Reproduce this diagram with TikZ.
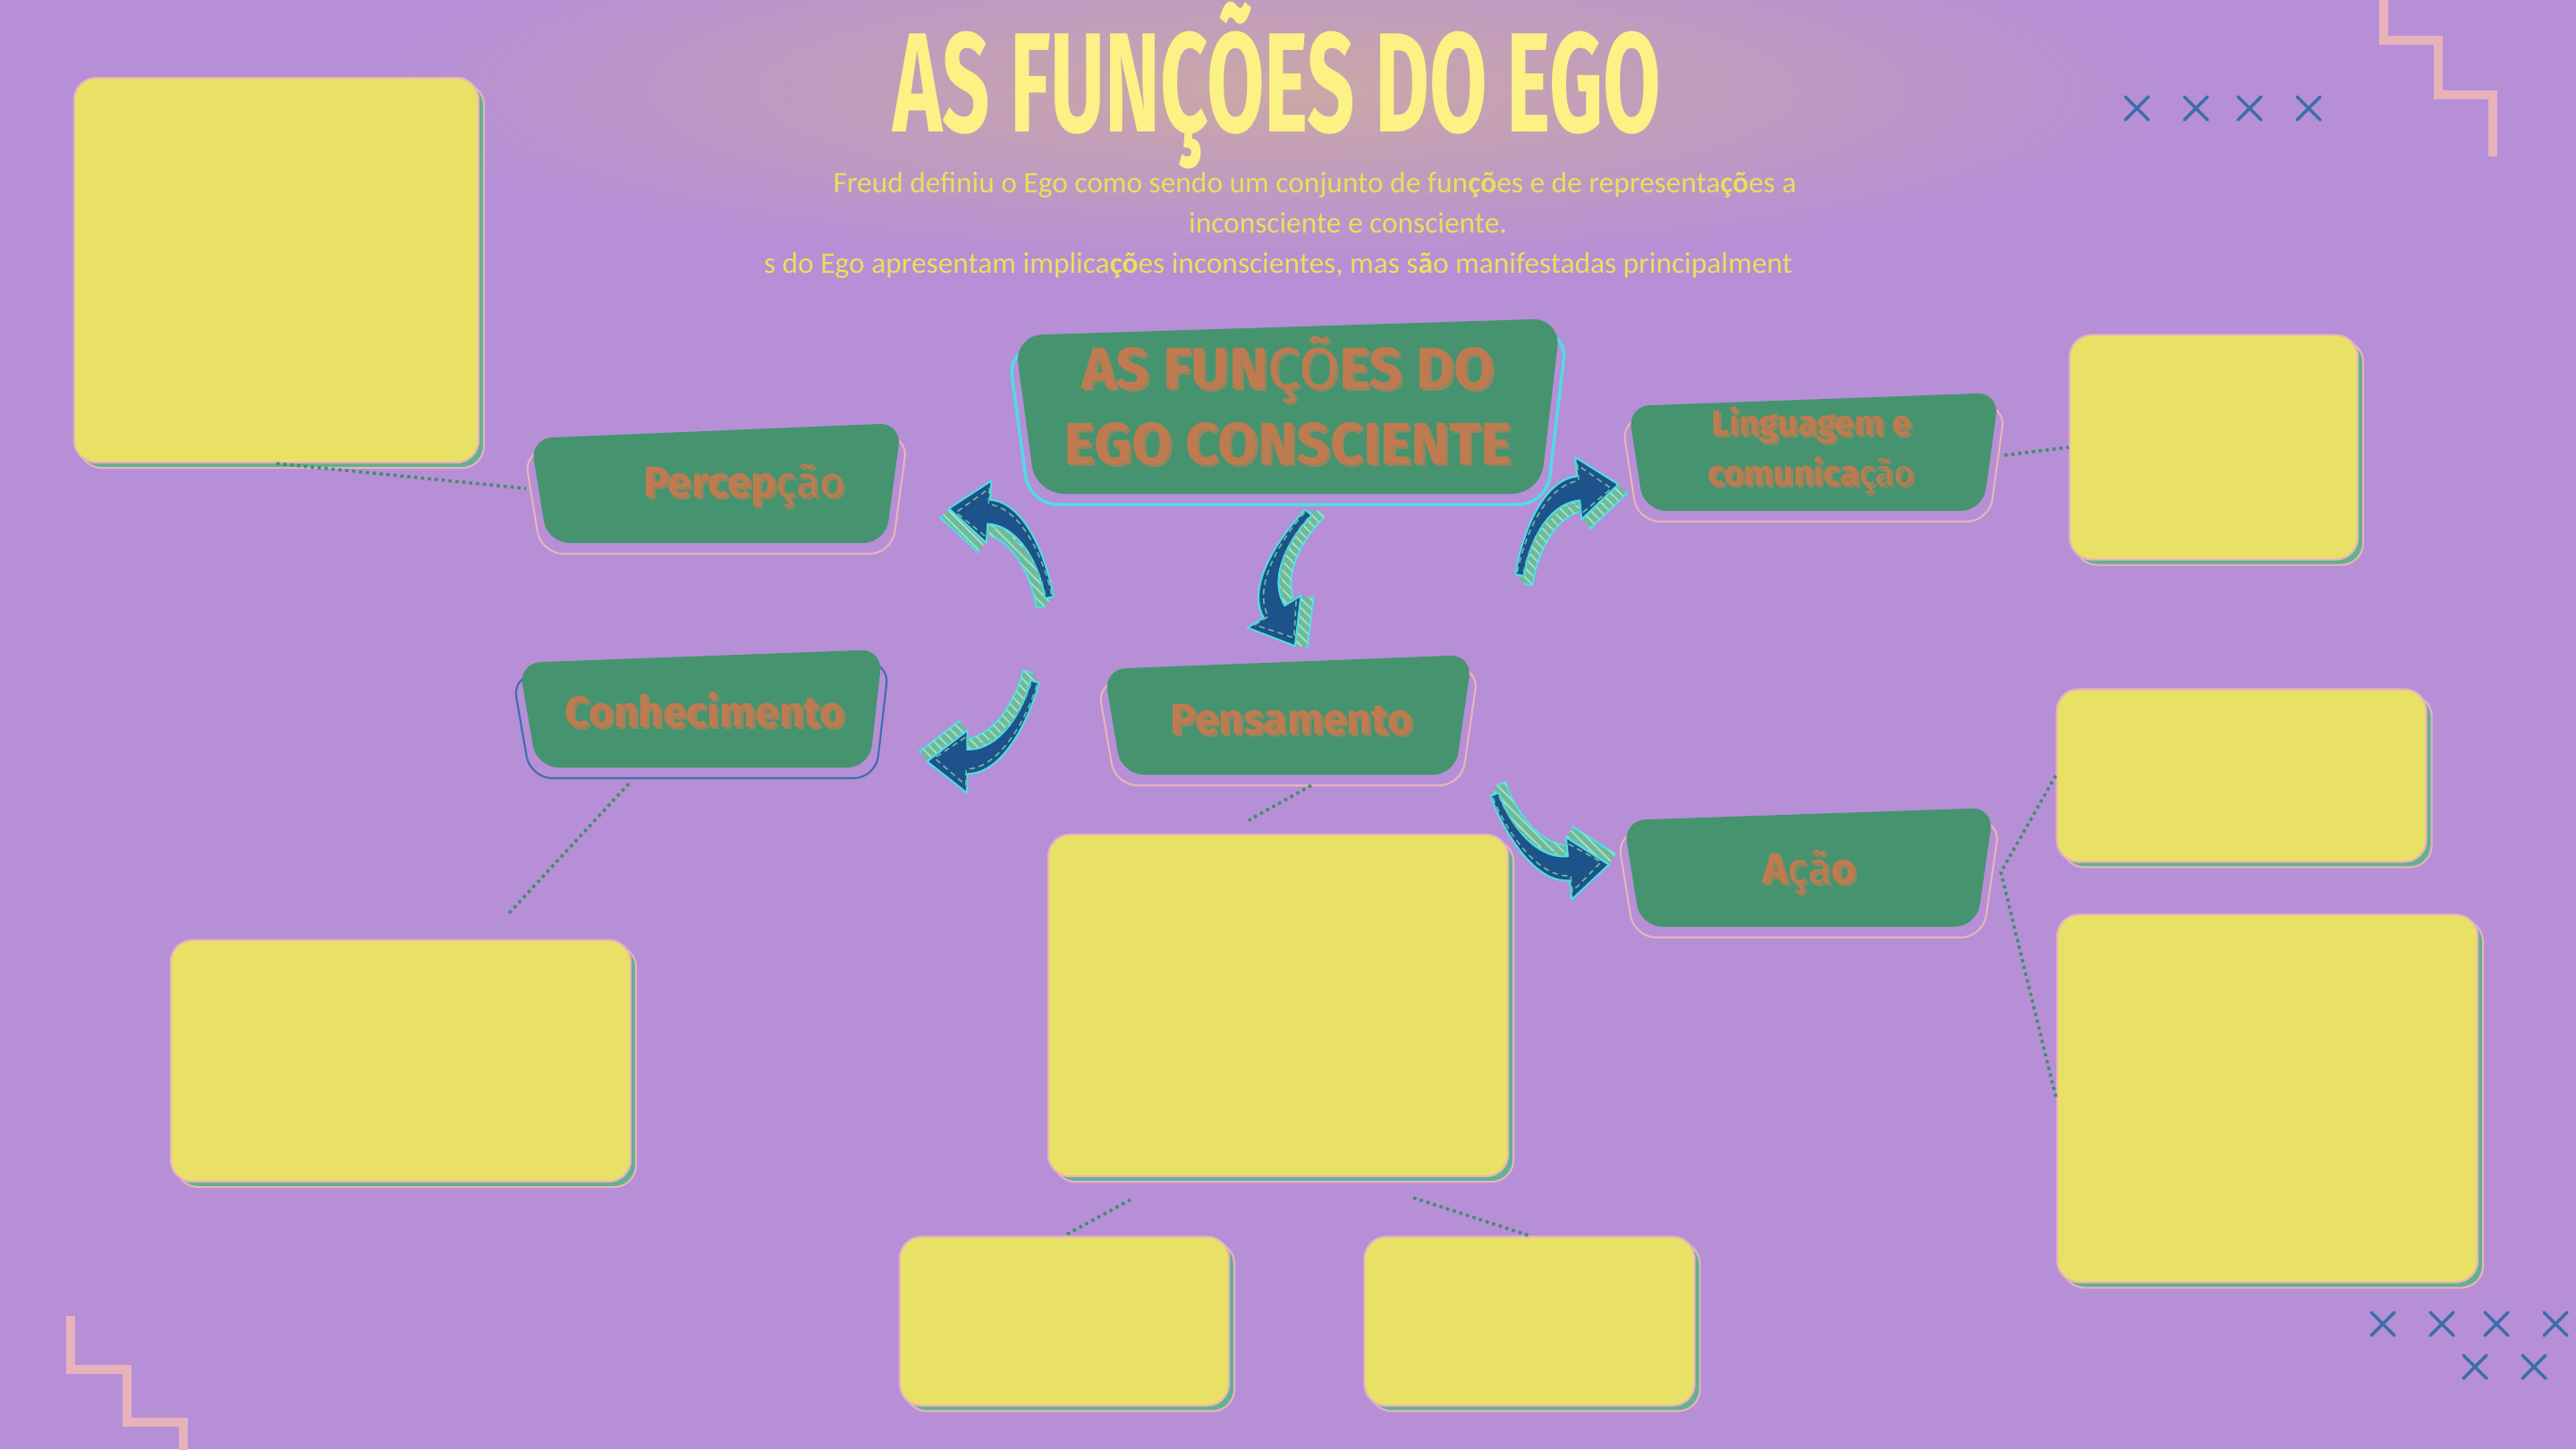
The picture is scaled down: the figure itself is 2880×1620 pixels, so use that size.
\documentclass[tikz,border=0pt]{standalone}
\usepackage{fontspec}
\setmainfont{Carlito}
\newfontfamily\headfont{Fira Sans}
\newfontfamily\labelfont{Fira Sans}
\usetikzlibrary{calc, shadows, patterns}

\definecolor{bgviolet}{HTML}{B68FD6}
\definecolor{haze}{HTML}{CBA8A6}
\definecolor{titlefill}{HTML}{FCF184}
\definecolor{subyellow}{HTML}{EADF5C}
\definecolor{notey}{HTML}{E9E066}
\definecolor{notepink}{HTML}{E9B1BE}
\definecolor{noteshadow}{HTML}{62B18F}
\definecolor{egogreen}{HTML}{45946F}
\definecolor{egoorange}{HTML}{BF7B4F}
\definecolor{egoshade}{HTML}{98845E}
\definecolor{rimpink}{HTML}{EBB3B9}
\definecolor{rimcyan}{HTML}{4FDCE6}
\definecolor{rimblue}{HTML}{3F6CB5}
\definecolor{arrowblue}{HTML}{1D528A}
\definecolor{arrowside}{HTML}{6CBB9B}
\definecolor{hatchgreen}{HTML}{A8DCC4}
\definecolor{crossblue}{HTML}{3A6EA9}
\definecolor{zigpink}{HTML}{E8B2BB}
\definecolor{linkgreen}{HTML}{3E8E6A}

% letters set lighter inside bold labels
\newcommand{\lite}[1]{{\mdseries #1}}
% label text with its offset shade
\newcommand{\dropped}[1]{\makebox[0pt][l]{\kern0.85pt\raisebox{-0.85pt}{\color{egoshade}#1}}#1}

% green label plate: rim first, then the plate (TL, TR, BR, BL)
\newcommand{\funcshape}[6][7pt]{%
  \draw[rim, #2, rounded corners=#1] ($#3+(-7,14)$) -- ($#4+(7,14)$) -- ($#5+(7,12)$) -- ($#6+(-7,12)$) -- cycle;
  \fill[egogreen, rounded corners=#1] #3 -- #4 -- #5 -- #6 -- cycle;
}

% bent arrow, tail at (0,0), tip at (150,0)
\def\arrowoutline{(3,-4) .. controls (28,17) and (76,39) .. (106,16) -- (93,-1) -- (150,0) -- (135,55) -- (122,38) .. controls (90,62) and (30,30) .. (-3,4) -- cycle}
\def\arrowstitch{(5,-1) .. controls (29,18) and (75,35) .. (102,14) -- (96,4) -- (141,2) -- (131,47) -- (120,33) .. controls (89,55) and (31,27) .. (0,4)}
\newcommand{\bentarrow}[1]{%
  \begin{scope}[#1]
    \fill[arrowside, draw=rimcyan, line width=0.6pt, shift={(0,-14)}] \arrowoutline;
    \foreach \k in {12,10,...,0}
      \fill[arrowside, shift={(0,-\k)}] \arrowoutline;
    \foreach \k in {14,12,...,2}
      \fill[pattern=north west lines, pattern color=hatchgreen, shift={(0,-\k)}] \arrowoutline;
    \filldraw[arrowbody] \arrowoutline;
    \draw[stitch] \arrowstitch;
  \end{scope}}

\begin{document}
\begin{tikzpicture}[x=0.01cm, y=-0.01cm,
    note/.style={draw=notepink, line width=0.6pt, fill=notey, rounded corners=7pt, inner sep=0pt,
      general shadow={shadow xshift=1.7pt, shadow yshift=-1.7pt, fill=noteshadow, draw=notepink, line width=0.6pt}},
    rim/.style={line width=0.6pt, line join=round},
    funclabel/.style={text=egoorange, font=\labelfont\bfseries\fontsize{13.6pt}{16pt}\selectfont, inner sep=0pt},
    headline/.style={anchor=base, text=titlefill, font=\headfont\bfseries\fontsize{45pt}{50pt}\selectfont, inner sep=0pt},
    subline/.style={anchor=base, text=subyellow, font=\fontsize{9.5pt}{11pt}\selectfont, inner sep=0pt},
    link/.style={draw=linkgreen, line width=1pt, dash pattern=on 1pt off 1.2pt},
    crossmark/.style={draw=crossblue, line width=1pt, line cap=round},
    zig/.style={draw=zigpink, line width=2.9pt},
    arrowbody/.style={fill=arrowblue, draw=rimcyan, line width=0.6pt, line join=round},
    stitch/.style={draw=arrowside, line width=0.45pt, dash pattern=on 1.8pt off 1.3pt}
]
    % page
    \path[use as bounding box, fill=bgviolet] (0,0) rectangle (2880,1620);
    \shade[inner color=haze, outer color=bgviolet] (1428,100) ellipse [x radius=10cm, y radius=2cm];

    % title and lead text
    \node[headline] (title) at (1428,147) {\scalebox{0.59}[1]{AS FUNÇÕES DO EGO}};
    \node[subline] (sub1) at (1470,215) {Freud definiu o Ego como sendo um conjunto de fun\textbf{çõ}es e de representa\textbf{çõ}es a};
    \node[subline] (sub2) at (1507,260) {inconsciente e consciente.};
    \node[subline] (sub3) at (1429,305) {s do Ego apresentam implica\textbf{çõ}es inconscientes, mas s\textbf{ã}o manifestadas principalment};

    % corner ornaments
    \draw[zig] (2665,-10) |- (2726,45) |- (2787,106) -- (2787,175);
    \draw[zig] (79,1471) |- (142,1531) |- (205,1590) -- (205,1630);
    \foreach \cx in {2389,2455,2515,2581}
        \draw[crossmark] (\cx,121) +(-13,-13) -- +(13,13) +(-13,13) -- +(13,-13);
    \foreach \cx in {2664,2730,2791,2857}
        \draw[crossmark] (\cx,1480) +(-13,-13) -- +(13,13) +(-13,13) -- +(13,-13);
    \foreach \cx in {2767,2833}
        \draw[crossmark] (\cx,1528) +(-13,-13) -- +(13,13) +(-13,13) -- +(13,-13);

    % yellow note cards
    \node[note, minimum width=4.52cm, minimum height=4.30cm] (b1) at (309,302) {};
    \node[note, minimum width=3.22cm, minimum height=2.51cm] (b2) at (2475,500) {};
    \node[note, minimum width=4.13cm, minimum height=1.93cm] (b3) at (2506,867) {};
    \node[note, minimum width=4.70cm, minimum height=4.11cm] (b4) at (2535,1228) {};
    \node[note, minimum width=5.14cm, minimum height=2.70cm] (b5) at (448,1186) {};
    \node[note, minimum width=5.14cm, minimum height=3.82cm] (b6) at (1429,1124) {};
    \node[note, minimum width=3.68cm, minimum height=1.89cm] (b7) at (1190,1477) {};
    \node[note, minimum width=3.69cm, minimum height=1.89cm] (b8) at (1710,1477) {};

    % green plates
    \funcshape[9pt]{draw=rimcyan, line width=1pt}{(1134,375)}{(1745,356)}{(1722,552)}{(1158,552)}
    \funcshape{draw=rimpink}{(593,490)}{(1008,473)}{(990,607)}{(612,607)}
    \funcshape{draw=rimpink}{(1820,454)}{(2235,439)}{(2217,571)}{(1838,571)}
    \funcshape{draw=rimblue}{(580,741)}{(987,726)}{(972,858)}{(600,858)}
    \funcshape{draw=rimpink}{(1234,748)}{(1646,732)}{(1627,866)}{(1254,866)}
    \funcshape{draw=rimpink}{(1815,917)}{(2229,903)}{(2210,1036)}{(1834,1036)}

    \node[funclabel, align=center, font=\labelfont\bfseries\fontsize{18.5pt}{23.9pt}\selectfont] (ego) at (1440,449)
        {\dropped{AS FUN\lite{ÇÕ}ES DO}\\\dropped{EGO CONSCIENTE}};
    \node[funclabel, anchor=base] (perc) at (832,555) {\dropped{Percep\lite{ção}}};
    \node[funclabel, align=center, font=\labelfont\bfseries\fontsize{11.1pt}{15.9pt}\selectfont] (ling) at (2025,505)
        {\dropped{Linguagem e}\\\dropped{comunica\lite{ção}}};
    \node[funclabel, anchor=base] (conh) at (788,812) {\dropped{Conhecimento}};
    \node[funclabel, anchor=base] (pens) at (1444,820) {\dropped{Pensamento}};
    \node[funclabel, anchor=base] (acao) at (2023,987) {\dropped{A\lite{çã}o}};

    % dotted links
    \coordinate (perc-w) at (588,546);
    \coordinate (ling-e) at (2241,509);
    \coordinate (conh-s) at (703,876);
    \coordinate (b5-n) at (569,1021);
    \coordinate (pens-s) at (1466,878);
    \coordinate (b6-n) at (1396,917);
    \coordinate (acao-e) at (2237,975);
    \coordinate (b6-sw) at (1264,1341);
    \coordinate (b6-se) at (1580,1339);
    \draw[link] (b1.south) -- (perc-w);
    \draw[link] (ling-e) -- (b2.west);
    \draw[link] (conh-s) -- (b5-n);
    \draw[link] (pens-s) -- (b6-n);
    \draw[link] (b3.west) -- (acao-e) -- (b4.west);
    \draw[link] (b6-sw) -- (b7.north);
    \draw[link] (b6-se) -- (b8.north);

    % bent arrows
    \bentarrow{shift={(1173,668)}, rotate=138.4}
    \bentarrow{shift={(1463,573)}, rotate=-95.8}
    \bentarrow{shift={(1699,643)}, rotate=42.6, yscale=-1}
    \bentarrow{shift={(1157,762)}, rotate=-143.5, yscale=-1}
    \bentarrow{shift={(1671,888)}, rotate=-31.6}
\end{tikzpicture}
\end{document}
